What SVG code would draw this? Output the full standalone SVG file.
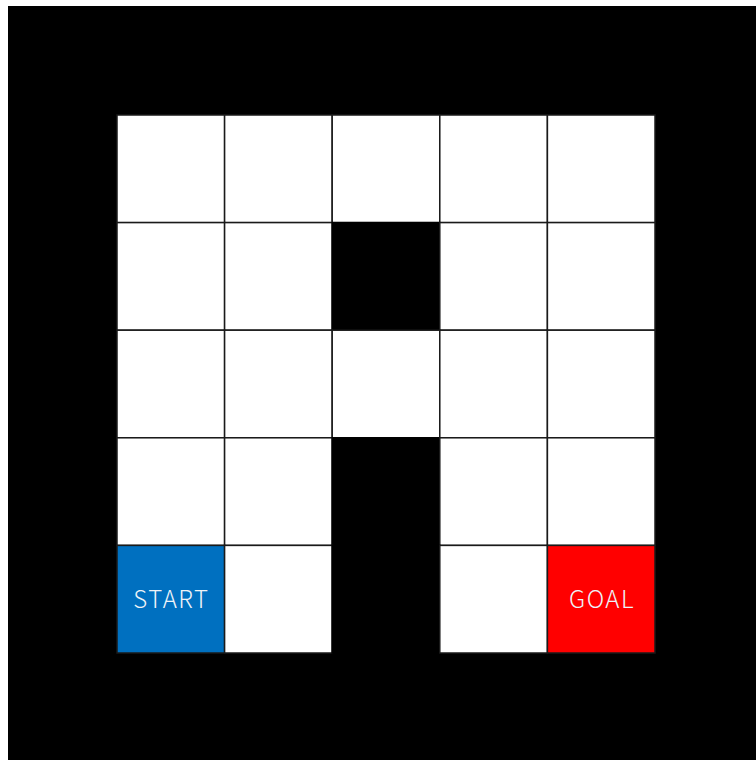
<svg xmlns="http://www.w3.org/2000/svg" width="756" height="760" viewBox="0 0 756 760">
<style>
.c{fill:#ffffff;stroke:#1a1a1a;stroke-width:1.5}
.w{fill:#000000;stroke:#000000;stroke-width:1.5}
.s{fill:#0070C0;stroke:#1a1a1a;stroke-width:1.5}
.g{fill:#FF0000;stroke:#1a1a1a;stroke-width:1.5}
.t{font-family:"Noto Sans CJK JP","Liberation Sans",sans-serif;font-weight:300;font-size:24px;letter-spacing:1.5px;fill:#eef3f8;text-anchor:middle}
</style>
<rect x="0" y="0" width="756" height="760" fill="#ffffff"/>
<rect id="background" x="8" y="6" width="748" height="754" fill="#000000"/>
<g id="grid">
<g id="c00"><rect class="c" x="117" y="115" width="107.6" height="107.6"/></g>
<g id="c10"><rect class="c" x="224.6" y="115" width="107.6" height="107.6"/></g>
<g id="c20"><rect class="c" x="332.2" y="115" width="107.6" height="107.6"/></g>
<g id="c30"><rect class="c" x="439.8" y="115" width="107.6" height="107.6"/></g>
<g id="c40"><rect class="c" x="547.4" y="115" width="107.6" height="107.6"/></g>

<g id="c01"><rect class="c" x="117" y="222.6" width="107.6" height="107.6"/></g>
<g id="c11"><rect class="c" x="224.6" y="222.6" width="107.6" height="107.6"/></g>
<g id="c21"><rect class="w" x="332.2" y="222.6" width="107.6" height="107.6"/></g>
<g id="c31"><rect class="c" x="439.8" y="222.6" width="107.6" height="107.6"/></g>
<g id="c41"><rect class="c" x="547.4" y="222.6" width="107.6" height="107.6"/></g>

<g id="c02"><rect class="c" x="117" y="330.2" width="107.6" height="107.6"/></g>
<g id="c12"><rect class="c" x="224.6" y="330.2" width="107.6" height="107.6"/></g>
<g id="c22"><rect class="c" x="332.2" y="330.2" width="107.6" height="107.6"/></g>
<g id="c32"><rect class="c" x="439.8" y="330.2" width="107.6" height="107.6"/></g>
<g id="c42"><rect class="c" x="547.4" y="330.2" width="107.6" height="107.6"/></g>

<g id="c03"><rect class="c" x="117" y="437.8" width="107.6" height="107.6"/></g>
<g id="c13"><rect class="c" x="224.6" y="437.8" width="107.6" height="107.6"/></g>
<g id="c23"><rect class="w" x="332.2" y="437.8" width="107.6" height="107.6"/></g>
<g id="c33"><rect class="c" x="439.8" y="437.8" width="107.6" height="107.6"/></g>
<g id="c43"><rect class="c" x="547.4" y="437.8" width="107.6" height="107.6"/></g>

<g id="start"><rect class="s" x="117" y="545.4" width="107.6" height="107.6"/><text class="t" x="171.5" y="607.5">START</text></g>
<g id="c14"><rect class="c" x="224.6" y="545.4" width="107.6" height="107.6"/></g>
<g id="c24"><rect class="w" x="332.2" y="545.4" width="107.6" height="107.6"/></g>
<g id="c34"><rect class="c" x="439.8" y="545.4" width="107.6" height="107.6"/></g>
<g id="goal"><rect class="g" x="547.4" y="545.4" width="107.6" height="107.6"/><text class="t" x="602" y="607.5">GOAL</text></g>
</g>
<g id="connectors"/>
</svg>
